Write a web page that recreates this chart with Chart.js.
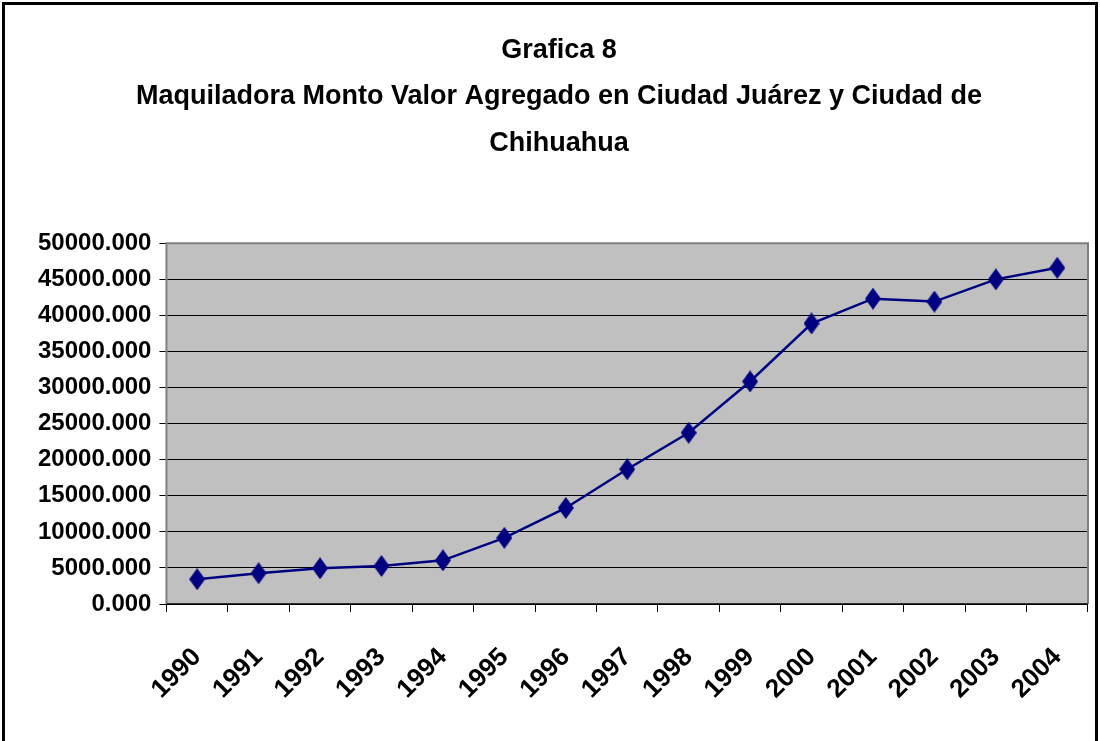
<!DOCTYPE html>
<html lang="es">
<head>
    <meta charset="UTF-8">
    <title>Grafica 8</title>
    <script src="https://cdn.jsdelivr.net/npm/chart.js"></script>
    <style>
        body { margin: 0; background: #fff; }
        .frame {
            position: relative;
            width: 1100px;
            height: 741px;
        }
        .frame canvas { position: absolute; left: 0; top: 0; }
        .edge {
            position: absolute;
            left: 2px; top: 2px; right: 2px; bottom: -5px;
            border: 3px solid #000;
            pointer-events: none;
        }
    </style>
</head>
<body>
    <div class="frame">
        <canvas id="myChart" width="1100" height="741"></canvas>
        <div class="edge"></div>
    </div>

    <script>
        // Data
        var years = ['1990', '1991', '1992', '1993', '1994', '1995', '1996', '1997',
                     '1998', '1999', '2000', '2001', '2002', '2003', '2004'];
        var valorAgregado = [3440, 4270, 4960, 5280, 6060, 9180, 13320, 18690,
                             23740, 30850, 38890, 42330, 41920, 45000, 46600];
        var titleLines = ['Grafica 8',
                          'Maquiladora Monto Valor Agregado en Ciudad Juárez y Ciudad de',
                          'Chihuahua'];

        var fontFam = '"Liberation Sans", Arial, sans-serif';

        // tall diamond marker like the Excel one
        function makeDiamond() {
            var c = document.createElement('canvas');
            c.width = 16; c.height = 22;
            var g = c.getContext('2d');
            g.fillStyle = '#000080';
            g.beginPath();
            g.moveTo(8, 0); g.lineTo(16, 11); g.lineTo(8, 22); g.lineTo(0, 11);
            g.closePath();
            g.fill();
            return c;
        }

        // grey plot area with a grey frame
        var plotBackground = {
            id: 'plotBackground',
            beforeDraw: function(chart) {
                var a = chart.chartArea, ctx = chart.ctx;
                ctx.save();
                ctx.fillStyle = '#c0c0c0';
                ctx.fillRect(a.left, a.top, a.right - a.left, a.bottom - a.top);
                ctx.restore();
            },
            afterDatasetsDraw: function(chart) {
                var a = chart.chartArea, ctx = chart.ctx;
                ctx.save();
                ctx.strokeStyle = '#808080';
                ctx.lineWidth = 2;
                ctx.beginPath();
                ctx.moveTo(a.left, a.bottom);
                ctx.lineTo(a.left, a.top);
                ctx.lineTo(a.right, a.top);
                ctx.lineTo(a.right, a.bottom);
                ctx.stroke();
                ctx.strokeStyle = '#000';
                ctx.lineWidth = 1.5;
                ctx.beginPath();
                ctx.moveTo(a.left, a.bottom);
                ctx.lineTo(a.right, a.bottom);
                ctx.stroke();
                ctx.restore();
            }
        };

        var ctx = document.getElementById('myChart').getContext('2d');
        var myChart = new Chart(ctx, {
            type: 'line',
            data: {
                labels: years,
                datasets: [{
                    data: valorAgregado,
                    borderColor: '#000080',
                    borderWidth: 2.5,
                    pointStyle: makeDiamond(),
                    pointRadius: 8,
                    pointBackgroundColor: '#000080',
                    tension: 0
                }]
            },
            options: {
                responsive: false,
                animation: false,
                layout: {
                    padding: { left: 30, right: 12, top: 27, bottom: 6 }
                },
                plugins: {
                    legend: { display: false },
                    tooltip: { enabled: false },
                    title: {
                        display: true,
                        text: titleLines,
                        color: '#000',
                        font: { family: fontFam, size: 27, weight: 'bold', lineHeight: 1.72 },
                        padding: { top: 0, bottom: 77 }
                    }
                },
                scales: {
                    x: {
                        offset: true,
                        afterFit: function(scale) { scale.paddingRight = 0; },
                        grid: {
                            offset: true,
                            drawOnChartArea: false,
                            drawTicks: true,
                            tickLength: 8,
                            color: '#000'
                        },
                        border: { display: false },
                        ticks: {
                            color: '#000',
                            minRotation: 45,
                            maxRotation: 45,
                            autoSkip: false,
                            padding: 30,
                            font: { family: fontFam, size: 26, weight: 'bold' }
                        }
                    },
                    y: {
                        min: 0,
                        max: 50000,
                        grid: {
                            color: '#000',
                            lineWidth: 1,
                            tickLength: 7
                        },
                        border: { display: false },
                        ticks: {
                            stepSize: 5000,
                            autoSkip: false,
                            color: '#000',
                            padding: 8,
                            font: { family: fontFam, size: 24, weight: 'bold' },
                            callback: function(v) { return v.toFixed(3); }
                        }
                    }
                }
            },
            plugins: [plotBackground]
        });
    </script>
</body>
</html>
